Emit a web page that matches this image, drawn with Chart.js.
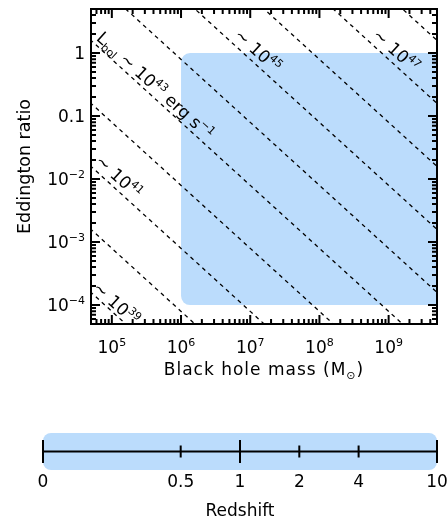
<!DOCTYPE html>
<html lang="en">
<head>
<meta charset="UTF-8">
<title>Eddington ratio vs black hole mass</title>
<script src="https://cdn.jsdelivr.net/npm/chart.js"></script>
<style>
    body { margin: 0; background: #fff; }
    canvas { display: block; }
</style>
</head>
<body>

<canvas id="grafico-massa" width="448" height="400"></canvas>
<canvas id="grafico-redshift" width="448" height="121"></canvas>

<script>
    // L_bol contours (log10 erg/s), L = eddConst * M * ratio
    const lumExps = [39, 40, 41, 42, 43, 44, 45, 46, 47, 48];
    const eddConst = 1.26e38;
    const lineMasses = [1e4, 1e10];

    const massRange = [5e4, 5e9];
    const ratioRange = [5e-5, 5];

    const xTickVals = [1e5, 1e6, 1e7, 1e8, 1e9];
    const xTickLabels = ['10^{5}', '10^{6}', '10^{7}', '10^{8}', '10^{9}'];
    const yTickVals = [1e-4, 1e-3, 1e-2, 0.1, 1];
    const yTickLabels = ['10^{−4}', '10^{−3}', '10^{−2}', '0.1', '1'];

    // shaded region
    const regionMass = [1e6, 1e10];
    const regionRatio = [1e-4, 1];

    // contour labels, anchored at (mass, ratio)
    const contourTexts = ['~ 10^{39}', '~ 10^{41}', 'L_{bol} ~ 10^{43} erg s^{−1}', '~ 10^{45}', '~ 10^{47}'];
    const contourMass = [5.8e4, 6.3e4, 6.5e4, 6.4e6, 6.4e8];
    const contourRatio = [2.04e-4, 0.021, 1.9, 2.1, 2.1];

    // redshift bar
    const zTickVals = [0.1, 0.5, 1, 2, 4, 10];
    const zTickLabels = ['0', '0.5', '1', '2', '4', '10'];
    const zMajor = [0.1, 1, 10];
    const zBand = [0.1, 10];

    const azul = '#bbdcfc';
    const fonte = 'DejaVu Sans';

    function parseRich(s) {
        const parts = [];
        const re = /([\^_])\{([^}]*)\}|([^\^_]+)/g;
        let m;
        while ((m = re.exec(s))) {
            if (m[3]) parts.push({ t: m[3], k: 0 });
            else parts.push({ t: m[2], k: m[1] === '^' ? 1 : -1 });
        }
        return parts;
    }

    function richWidth(ctx, s, size) {
        let w = 0;
        parseRich(s).forEach(p => {
            ctx.font = (p.k ? Math.round(size * 0.65) : size) + 'px ' + fonte;
            w += ctx.measureText(p.t).width;
        });
        return w;
    }

    // y = baseline
    function drawRich(ctx, s, x, y, size, align) {
        const w = richWidth(ctx, s, size);
        let cx = x;
        if (align === 'center') cx = x - w / 2;
        if (align === 'right') cx = x - w;
        ctx.textAlign = 'left';
        ctx.textBaseline = 'alphabetic';
        parseRich(s).forEach(p => {
            let dy = 0;
            if (p.k === 1) dy = -size * 0.42;
            if (p.k === -1) dy = size * 0.22;
            ctx.font = (p.k ? Math.round(size * 0.65) : size) + 'px ' + fonte;
            ctx.fillText(p.t, cx, y + dy);
            cx += ctx.measureText(p.t).width;
        });
    }

    function logTicks(scale) {
        const t = [];
        const e0 = Math.floor(Math.log10(scale.min));
        const e1 = Math.ceil(Math.log10(scale.max));
        for (let e = e0; e <= e1; e++) {
            for (let s = 1; s < 10; s++) {
                const v = s * Math.pow(10, e);
                if (v >= scale.min && v <= scale.max) t.push({ value: v });
            }
        }
        scale.ticks = t;
    }

    function isDecade(v) {
        const l = Math.log10(v);
        return Math.abs(l - Math.round(l)) < 1e-6;
    }

    const regiao = {
        id: 'regiao',
        beforeDatasetsDraw(chart) {
            const { ctx, chartArea: a, scales: { x, y } } = chart;
            ctx.save();
            ctx.beginPath();
            ctx.rect(a.left, a.top, a.right - a.left, a.bottom - a.top);
            ctx.clip();
            const x0 = x.getPixelForValue(regionMass[0]);
            const x1 = x.getPixelForValue(regionMass[1]);
            const y0 = y.getPixelForValue(regionRatio[1]);
            const y1 = y.getPixelForValue(regionRatio[0]);
            ctx.fillStyle = azul;
            ctx.beginPath();
            ctx.roundRect(x0, y0, x1 - x0, y1 - y0, 9);
            ctx.fill();
            ctx.restore();
        }
    };

    const moldura = {
        id: 'moldura',
        afterDraw(chart) {
            const { ctx, chartArea: a, scales: { x, y } } = chart;
            ctx.save();
            ctx.strokeStyle = '#000';
            ctx.fillStyle = '#000';
            ctx.lineWidth = 2;
            ctx.strokeRect(a.left, a.top, a.right - a.left, a.bottom - a.top);

            // ticks inside, on all four sides
            ctx.beginPath();
            x.ticks.forEach(t => {
                const px = x.getPixelForValue(t.value);
                const len = isDecade(t.value) ? 9 : 5;
                ctx.moveTo(px, a.bottom); ctx.lineTo(px, a.bottom - len);
                ctx.moveTo(px, a.top); ctx.lineTo(px, a.top + len);
            });
            y.ticks.forEach(t => {
                const py = y.getPixelForValue(t.value);
                const len = isDecade(t.value) ? 9 : 5;
                ctx.moveTo(a.left, py); ctx.lineTo(a.left + len, py);
                ctx.moveTo(a.right, py); ctx.lineTo(a.right - len, py);
            });
            ctx.stroke();

            // tick labels
            xTickVals.forEach((v, i) => {
                drawRich(ctx, xTickLabels[i], x.getPixelForValue(v), a.bottom + 29, 17, 'center');
            });
            yTickVals.forEach((v, i) => {
                drawRich(ctx, yTickLabels[i], a.left - 6, y.getPixelForValue(v) + 6, 17, 'right');
            });

            // axis titles
            ctx.save();
            ctx.letterSpacing = '1px';
            drawRich(ctx, 'Black hole mass (M_{⊙})', (a.left + a.right) / 2, a.bottom + 51, 17, 'center');
            ctx.restore();
            ctx.save();
            ctx.translate(30, (a.top + a.bottom) / 2);
            ctx.rotate(-Math.PI / 2);
            drawRich(ctx, 'Eddington ratio', 0, 0, 17.5, 'center');
            ctx.restore();

            // contour labels along the lines
            const p0 = [x.getPixelForValue(lineMasses[0]), y.getPixelForValue(1e40 / (eddConst * lineMasses[0]))];
            const p1 = [x.getPixelForValue(lineMasses[1]), y.getPixelForValue(1e40 / (eddConst * lineMasses[1]))];
            const ang = Math.atan2(p1[1] - p0[1], p1[0] - p0[0]);
            contourTexts.forEach((txt, i) => {
                ctx.save();
                ctx.translate(x.getPixelForValue(contourMass[i]), y.getPixelForValue(contourRatio[i]));
                ctx.rotate(ang);
                drawRich(ctx, txt, 0, 5, 17, 'left');
                ctx.restore();
            });
            ctx.restore();
        }
    };

    const linhas = lumExps.map(e => ({
        data: lineMasses.map(m => ({ x: m, y: Math.pow(10, e) / (eddConst * m) })),
        showLine: true,
        borderColor: '#000',
        borderWidth: 1.3,
        borderDash: [4, 4],
        pointRadius: 0,
        fill: false
    }));

    new Chart(document.getElementById('grafico-massa'), {
        type: 'scatter',
        data: { datasets: linhas },
        options: {
            responsive: false,
            animation: false,
            layout: { padding: { top: 9, right: 11, left: 0, bottom: 0 } },
            plugins: { legend: { display: false }, tooltip: { enabled: false } },
            scales: {
                x: {
                    type: 'logarithmic',
                    min: massRange[0],
                    max: massRange[1],
                    grid: { display: false },
                    border: { display: false },
                    ticks: { display: false },
                    afterBuildTicks: logTicks,
                    afterFit(s) { s.height = 76; }
                },
                y: {
                    type: 'logarithmic',
                    min: ratioRange[0],
                    max: ratioRange[1],
                    grid: { display: false },
                    border: { display: false },
                    ticks: { display: false },
                    afterBuildTicks: logTicks,
                    afterFit(s) { s.width = 91; }
                }
            }
        },
        plugins: [regiao, moldura]
    });

    const barraZ = {
        id: 'barraZ',
        afterDraw(chart) {
            const { ctx, chartArea: a, scales: { x } } = chart;
            ctx.save();
            const x0 = x.getPixelForValue(zBand[0]);
            const x1 = x.getPixelForValue(zBand[1]);
            ctx.fillStyle = azul;
            ctx.beginPath();
            ctx.roundRect(x0, a.top, x1 - x0, a.bottom - a.top, 8);
            ctx.fill();

            const mid = (a.top + a.bottom) / 2;
            ctx.strokeStyle = '#000';
            ctx.lineWidth = 2;
            ctx.beginPath();
            ctx.moveTo(a.left, mid); ctx.lineTo(a.right, mid);
            zTickVals.forEach(v => {
                const px = x.getPixelForValue(v);
                const h = zMajor.includes(v) ? 11.5 : 6;
                ctx.moveTo(px, mid - h); ctx.lineTo(px, mid + h);
            });
            ctx.stroke();

            ctx.fillStyle = '#000';
            zTickVals.forEach((v, i) => {
                drawRich(ctx, zTickLabels[i], x.getPixelForValue(v), a.bottom + 17, 17, 'center');
            });
            drawRich(ctx, 'Redshift', (a.left + a.right) / 2, a.bottom + 46, 17, 'center');
            ctx.restore();
        }
    };

    new Chart(document.getElementById('grafico-redshift'), {
        type: 'scatter',
        data: { datasets: [] },
        options: {
            responsive: false,
            animation: false,
            layout: { padding: { top: 33, right: 11, left: 43, bottom: 0 } },
            plugins: { legend: { display: false }, tooltip: { enabled: false } },
            scales: {
                x: {
                    type: 'logarithmic',
                    min: zBand[0],
                    max: zBand[1],
                    grid: { display: false },
                    border: { display: false },
                    ticks: { display: false },
                    afterFit(s) { s.height = 51; }
                },
                y: { display: false, min: 0, max: 1 }
            }
        },
        plugins: [barraZ]
    });
</script>
</body>
</html>
